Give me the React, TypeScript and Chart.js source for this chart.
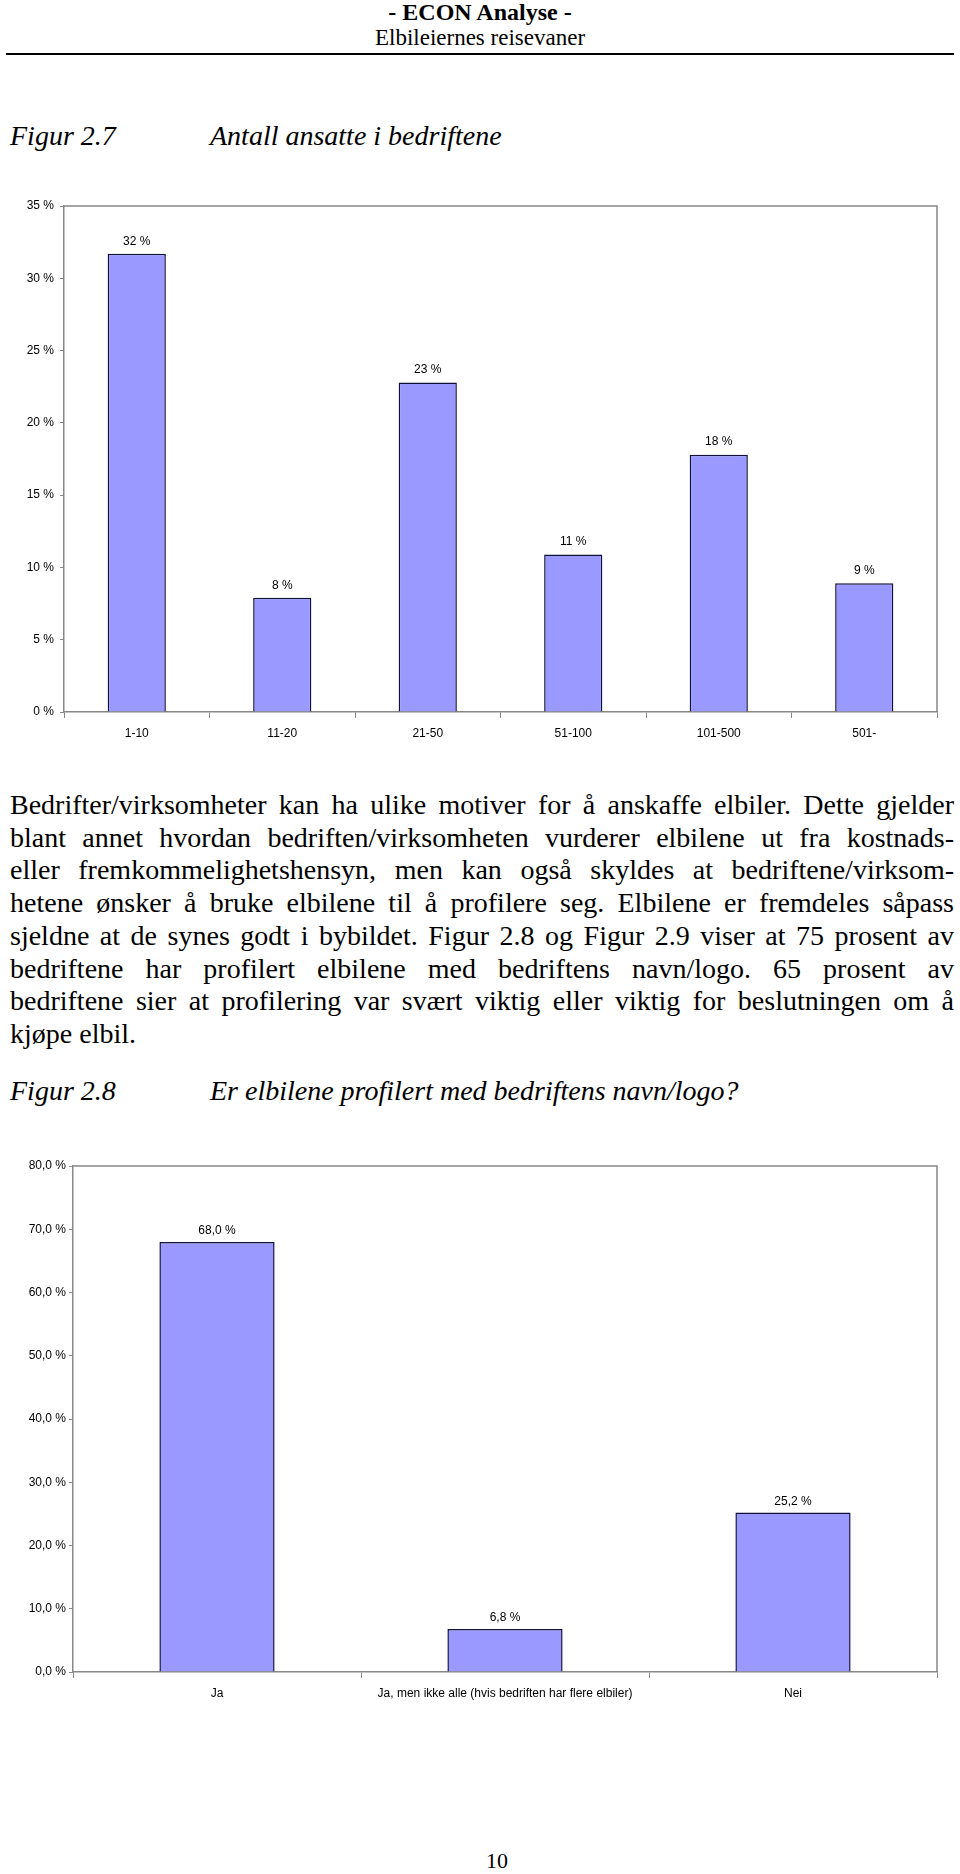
import React, { useEffect, useRef } from "react";
import { Chart, registerables } from "chart.js";

Chart.register(...registerables);

// ---- Data ----
const sizeCategories = ["1-10", "11-20", "21-50", "51-100", "101-500", "501-"];
const sizeShares = [31.7, 7.9, 22.8, 10.9, 17.8, 8.9];
const sizeTicksMax = 35;
const sizeTicksStep = 5;

const profileCategories = ["Ja", "Ja, men ikke alle (hvis bedriften har flere elbiler)", "Nei"];
const profileShares = [68.0, 6.8, 25.2];
const profileTicksMax = 80;
const profileTicksStep = 10;

const paragraphLines = [
  "Bedrifter/virksomheter kan ha ulike motiver for å anskaffe elbiler. Dette gjelder",
  "blant annet hvordan bedriften/virksomheten vurderer elbilene ut fra kostnads-",
  "eller fremkommelighetshensyn, men kan også skyldes at bedriftene/virksom-",
  "hetene ønsker å bruke elbilene til å profilere seg. Elbilene er fremdeles såpass",
  "sjeldne at de synes godt i bybildet. Figur 2.8 og Figur 2.9 viser at 75 prosent av",
  "bedriftene har profilert elbilene med bedriftens navn/logo. 65 prosent av",
  "bedriftene sier at profilering var svært viktig eller viktig for beslutningen om å",
  "kjøpe elbil.",
];

const AXIS = "#888888";
const BAR_FILL = "#9999ff";
const BAR_BORDER = "#101038";
const CHART_FONT = "'Liberation Sans', Arial, sans-serif";
const SERIF = "'Liberation Serif', 'Times New Roman', serif";

type BarProps = {
  labels: string[];
  values: number[];
  max: number;
  step: number;
  tickFmt: (v: number) => string;
  valueFmt: (v: number) => string;
  yAxisWidth: number;
  yTickPadding: number;
  labelGap: number;
  fontSize: number;
  top: number;
  height: number;
};

function BarChart(p: BarProps) {
  const ref = useRef<HTMLCanvasElement | null>(null);
  useEffect(() => {
    if (!ref.current) return;
    const frame = {
      id: "frame",
      beforeDatasetsDraw(chart: any) {
        const { ctx, chartArea } = chart;
        ctx.save();
        ctx.strokeStyle = AXIS;
        ctx.lineWidth = 1.5;
        ctx.beginPath();
        ctx.moveTo(chartArea.left, chartArea.top);
        ctx.lineTo(chartArea.right, chartArea.top);
        ctx.lineTo(chartArea.right, chartArea.bottom);
        ctx.stroke();
        ctx.restore();
      },
    };
    const valueLabels = {
      id: "valueLabels",
      afterDatasetsDraw(chart: any) {
        const { ctx } = chart;
        const meta = chart.getDatasetMeta(0);
        const data = chart.data.datasets[0].data as number[];
        ctx.save();
        ctx.font = `${p.fontSize}px ${CHART_FONT}`;
        ctx.fillStyle = "#000";
        ctx.textAlign = "center";
        ctx.textBaseline = "middle";
        meta.data.forEach((bar: any, i: number) => {
          ctx.fillText(p.valueFmt(data[i]), bar.x, bar.y - p.labelGap);
        });
        ctx.restore();
      },
    };
    const chart = new Chart(ref.current, {
      type: "bar",
      data: {
        labels: p.labels,
        datasets: [
          {
            data: p.values,
            backgroundColor: BAR_FILL,
            borderColor: BAR_BORDER,
            borderWidth: 1.5,
            barPercentage: 0.4,
            categoryPercentage: 1,
          },
        ],
      },
      options: {
        responsive: false,
        animation: false,
        devicePixelRatio: 1,
        layout: { padding: { top: 16, right: 23, left: 0, bottom: 0 } },
        plugins: { legend: { display: false }, tooltip: { enabled: false } },
        scales: {
          x: {
            grid: { drawOnChartArea: false, color: AXIS, tickLength: 6, lineWidth: 1 },
            border: { color: AXIS, width: 1.5 },
            ticks: {
              color: "#000",
              padding: 8,
              maxRotation: 0,
              autoSkip: false,
              font: { family: CHART_FONT, size: p.fontSize },
            },
            afterFit: (s: any) => {
              s.height = 48;
            },
          },
          y: {
            min: 0,
            max: p.max,
            grid: { drawOnChartArea: false, color: AXIS, tickLength: 4, lineWidth: 1 },
            border: { color: AXIS, width: 1.5 },
            ticks: {
              stepSize: p.step,
              color: "#000",
              padding: p.yTickPadding,
              font: { family: CHART_FONT, size: p.fontSize },
              callback: (v: any) => p.tickFmt(Number(v)),
            },
            afterFit: (s: any) => {
              s.width = p.yAxisWidth;
            },
          },
        },
      },
      plugins: [frame, valueLabels],
    });
    return () => chart.destroy();
  }, []);
  return (
    <canvas
      ref={ref}
      width={960}
      height={p.height}
      style={{ position: "absolute", left: 0, top: p.top, width: 960, height: p.height }}
    />
  );
}

const abs = (left: number, top: number, extra: React.CSSProperties = {}): React.CSSProperties => ({
  position: "absolute",
  left,
  top,
  margin: 0,
  whiteSpace: "nowrap",
  ...extra,
});

export default function App() {
  const lineTop = 789;
  const lineH = 32.7;
  return (
    <div
      style={{
        position: "absolute",
        left: 0,
        top: 0,
        width: 960,
        height: 1874,
        background: "#fff",
        fontFamily: SERIF,
        color: "#000",
        overflow: "hidden",
      }}
    >
      <div style={abs(0, 0, { width: 960, textAlign: "center", fontSize: 24, fontWeight: "bold", lineHeight: "24px" })}>
        - ECON Analyse -
      </div>
      <div style={abs(0, 26, { width: 960, textAlign: "center", fontSize: 23, lineHeight: "24px" })}>
        Elbileiernes reisevaner
      </div>
      <div style={abs(6, 53, { width: 948, height: 2, background: "#000" })} />

      <div style={abs(10, 120, { fontSize: 28, fontStyle: "italic", lineHeight: "32px" })}>Figur 2.7</div>
      <div style={abs(210, 120, { fontSize: 28, fontStyle: "italic", lineHeight: "32px" })}>
        Antall ansatte i bedriftene
      </div>

      <BarChart
        labels={sizeCategories}
        values={sizeShares}
        max={sizeTicksMax}
        step={sizeTicksStep}
        tickFmt={(v) => `${v} %`}
        valueFmt={(v) => `${Math.round(v)} %`}
        yAxisWidth={64}
        yTickPadding={6}
        labelGap={12.5}
        fontSize={12}
        top={190}
        height={570}
      />

      {paragraphLines.map((line, i) => (
        <div
          key={i}
          style={{
            position: "absolute",
            left: 10,
            top: lineTop + i * lineH,
            width: 944,
            fontSize: 28,
            lineHeight: `${lineH}px`,
            textAlign: i === paragraphLines.length - 1 ? "left" : "justify",
            textAlignLast: i === paragraphLines.length - 1 ? "left" : "justify",
          }}
        >
          {line}
        </div>
      ))}

      <div style={abs(10, 1075, { fontSize: 28, fontStyle: "italic", lineHeight: "32px" })}>Figur 2.8</div>
      <div style={abs(210, 1075, { fontSize: 28, fontStyle: "italic", lineHeight: "32px" })}>
        Er elbilene profilert med bedriftens navn/logo?
      </div>

      <BarChart
        labels={profileCategories}
        values={profileShares}
        max={profileTicksMax}
        step={profileTicksStep}
        tickFmt={(v) => `${v.toFixed(1).replace(".", ",")} %`}
        valueFmt={(v) => `${v.toFixed(1).replace(".", ",")} %`}
        yAxisWidth={73}
        yTickPadding={3}
        labelGap={11}
        fontSize={12}
        top={1150}
        height={570}
      />

      <div style={abs(0, 1848, { width: 994, textAlign: "center", fontSize: 22, lineHeight: "26px" })}>10</div>
    </div>
  );
}
